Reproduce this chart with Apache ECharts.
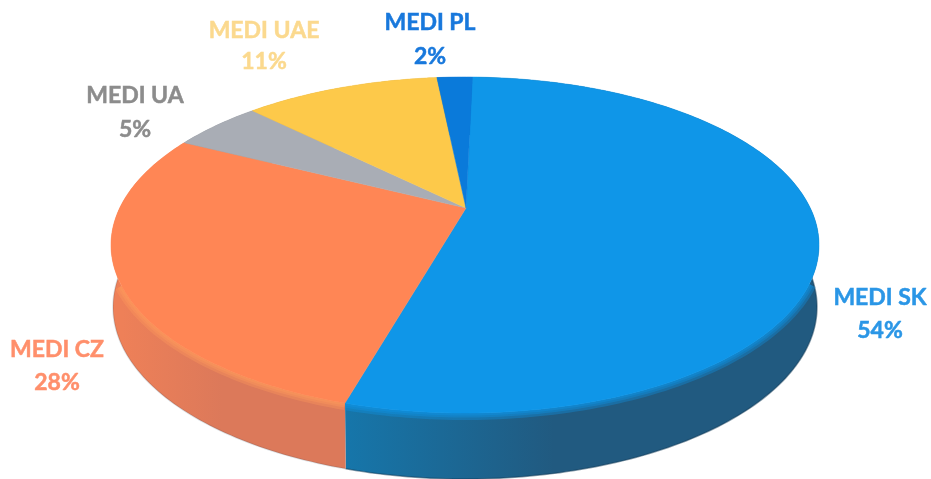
<!DOCTYPE html>
<html style="height: 100%">

<head>
    <meta charset="utf-8">
    <title>MEDI</title>
    <script type="text/javascript" src="https://cdn.jsdelivr.net/npm/echarts@6/dist/echarts.min.js"></script>
</head>

<body style="height: 100%; margin: 0; background: #fff">
    <div id="container" style="width: 931px; height: 479px"></div>

    <script type="text/javascript">
        var names = ['MEDI SK', 'MEDI CZ', 'MEDI UA', 'MEDI UAE', 'MEDI PL'];
        var shares = [54, 28, 5, 11, 2];
        var topColors = ['#0f96e8', '#ff8655', '#a9adb5', '#fdc94a', '#0a7ada'];
        var labelColors = ['#2a96e6', '#ff8f6b', '#8c8c8c', '#fbd98e', '#1878dc'];
        // wall shading, left colour then right colour
        var wallColors = [['#1676aa', '#215a80'], ['#ee8058', '#dc795a'], ['#85888e', '#85888e'], ['#c9a03b', '#c9a03b'], ['#0a5fa8', '#0a5fa8']];

        // ellipse of the pie top, and the tilt of the perspective
        var cx = 465, cy = 245, rx = 354, ry = 168, tilt = 0.22;
        var depth = 62, startDeg = 1.5;

        // places of the label centres (first line, second line)
        var labelPlaces = [[880, 298, 331], [57, 350, 383], [135, 96, 130], [264, 31, 62], [430, 23, 57]];

        var total = 0;
        for (var i = 0; i < shares.length; i++) total += shares[i];

        function sliceRange(index) {
            var sum = 0;
            for (var j = 0; j < index; j++) sum += shares[j];
            return [startDeg + sum / total * 360, startDeg + (sum + shares[index]) / total * 360];
        }

        // a point of the rim, angle clockwise from the back of the pie
        function rimPoint(deg, drop) {
            var a = deg * Math.PI / 180;
            var u = Math.sin(a), v = Math.cos(a);
            var d = 1 + tilt * v;
            var px = u * Math.sqrt(1 - tilt * tilt) / d;
            var py = (v + tilt) / d;
            return [cx + (drop ? rx - 2 : rx) * px, cy + (drop || 0) - (drop ? ry + 4 : ry) * py];
        }

        function arcPoints(range, drop) {
            var pts = [];
            for (var deg = range[0]; deg < range[1]; deg += 1) pts.push(rimPoint(deg, drop));
            pts.push(rimPoint(range[1], drop));
            return pts;
        }

        function renderWall(params) {
            var index = params.dataIndex;
            var range = sliceRange(index);
            var upper = arcPoints(range, 0);
            var lower = arcPoints(range, depth);
            var wall = upper.concat(lower.slice().reverse());
            var front = upper.filter(function (p) { return p[1] > cy + 38; });
            var xs = front.length ? front.map(function (p) { return p[0]; }) : [cx, cx + 1];
            var children = [{
                type: 'polygon',
                shape: { points: wall },
                style: {
                    fill: new echarts.graphic.LinearGradient(Math.min.apply(null, xs), 0, Math.max.apply(null, xs), 0, [
                        { offset: 0, color: wallColors[index][0] },
                        { offset: 0.45, color: wallColors[index][1] },
                        { offset: 1, color: wallColors[index][1] }
                    ], true)
                }
            }, {
                type: 'polyline',
                shape: { points: lower },
                style: { fill: null, stroke: '#123a55', opacity: index == 0 ? 0.5 : 0.15, lineWidth: 1.5 }
            }];
            // soft bevel between the top and the wall
            if (front.length > 1) {
                [14, 9, 5].forEach(function (w) {
                    children.push({
                        type: 'polyline',
                        shape: { points: front },
                        style: { fill: null, stroke: index == 1 ? '#ff9a5c' : topColors[index], lineWidth: w, opacity: 0.35 }
                    });
                });
            }
            return { type: 'group', children: children };
        }

        function renderTop(params) {
            var index = params.dataIndex;
            var apex = [cx + 1, cy - ry * tilt];
            return {
                type: 'polygon',
                shape: { points: [apex].concat(arcPoints(sliceRange(index), 0)) },
                style: { fill: topColors[index], stroke: topColors[index], lineWidth: 0.5 }
            };
        }

        function renderLabel(params) {
            var index = params.dataIndex;
            var place = labelPlaces[index];
            var font = 'bold 23px Lato';
            var line = function (text, y) {
                return {
                    type: 'text',
                    style: { text: text, x: place[0], y: y, font: font, fill: labelColors[index], stroke: labelColors[index], lineWidth: 0.5, textAlign: 'center', textVerticalAlign: 'middle' }
                };
            };
            return { type: 'group', children: [line(names[index], place[1]), line(shares[index] + '%', place[2])] };
        }

        var myChart = echarts.init(document.getElementById('container'));
        var option = {
            animation: false,
            series: [
                { type: 'custom', coordinateSystem: 'none', renderItem: renderWall, data: shares, silent: true },
                { type: 'custom', coordinateSystem: 'none', renderItem: renderTop, data: shares, silent: true },
                { type: 'custom', coordinateSystem: 'none', renderItem: renderLabel, data: shares, silent: true }
            ]
        };
        myChart.setOption(option, true);
    </script>
</body>

</html>
